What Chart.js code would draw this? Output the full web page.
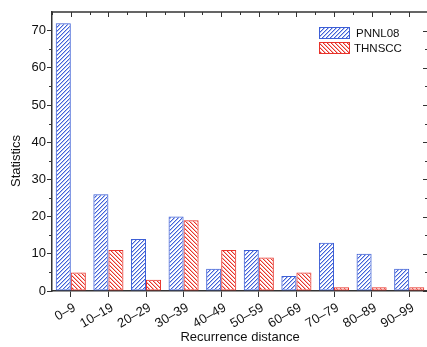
<!DOCTYPE html>
<html>
<head>
<meta charset="utf-8">
<script src="https://cdn.jsdelivr.net/npm/chart.js@4/dist/chart.umd.min.js"></script>
<style>
  html, body { margin: 0; padding: 0; background: #fff; overflow: hidden; }
  #wrap { width: 430px; height: 347px; }
</style>
</head>
<body>
<div id="wrap"><canvas id="grafico"></canvas></div>
<script>
const categorias = ['0–9', '10–19', '20–29', '30–39', '40–49', '50–59', '60–69', '70–79', '80–89', '90–99'];
const pnnl08 = [72, 26, 14, 20, 6, 11, 4, 13, 10, 6];
const thnscc = [5, 11, 3, 19, 11, 9, 5, 1, 1, 1];
const yTicks = [0, 10, 20, 30, 40, 50, 60, 70];
const yMinor = [5, 15, 25, 35, 45, 55, 65];

const AZUL = '#3d5fd6';
const VERMELHO = '#e8322a';
const EIXO = '#333';
const FONTE = '"Liberation Sans", Arial, sans-serif';

// padrão de hachura pixel a pixel, com meia-tinta ao lado da linha
function hachura(cor, corClara, subindo) {
    const c = document.createElement('canvas');
    c.width = 4; c.height = 4;
    const g = c.getContext('2d');
    for (let i = 0; i < 4; i++) {
        const yy = subindo ? 3 - i : i;
        g.fillStyle = corClara;
        g.fillRect((i + 1) % 4, yy, 1, 1);
        g.fillStyle = cor;
        g.fillRect(i, yy, 1, 1);
    }
    return g.createPattern(c, 'repeat');
}

const ctx = document.getElementById('grafico').getContext('2d');
const padraoAzul = hachura('#3f60d8', '#b4c2f0', true);
const padraoVermelho = hachura('#e8322a', '#f6b4ae', false);

// moldura, ticks menores, título do eixo y e legenda
const molduraPlugin = {
    id: 'moldura',
    afterDraw(chart) {
        const { ctx, chartArea: a, scales } = chart;
        const x = scales.x, y = scales.y;
        ctx.save();
        ctx.strokeStyle = EIXO;
        ctx.lineWidth = 1.5;
        ctx.beginPath();
        ctx.moveTo(a.left, a.top); ctx.lineTo(a.right, a.top);
        ctx.moveTo(a.right, a.top); ctx.lineTo(a.right, a.bottom);
        ctx.stroke();
        ctx.lineWidth = 1;
        ctx.beginPath();
        yTicks.forEach(v => {
            const py = Math.round(y.getPixelForValue(v)) + 0.5;
            ctx.moveTo(a.right, py); ctx.lineTo(a.right - 5, py);
        });
        yMinor.forEach(v => {
            const py = Math.round(y.getPixelForValue(v)) + 0.5;
            ctx.moveTo(a.left, py); ctx.lineTo(a.left - 3, py);
            ctx.moveTo(a.right, py); ctx.lineTo(a.right - 3, py);
        });
        categorias.forEach((c, i) => {
            const px = Math.round(x.getPixelForValue(i)) + 0.5;
            ctx.moveTo(px, a.top); ctx.lineTo(px, a.top + 5);
            const pb = Math.round(x.getPixelForValue(i - 0.5)) + 0.5;
            ctx.moveTo(pb, a.top); ctx.lineTo(pb, a.top + 3);
        });
        ctx.stroke();

        // título do eixo y
        ctx.fillStyle = '#111';
        ctx.font = '13px ' + FONTE;
        ctx.textAlign = 'center';
        ctx.textBaseline = 'middle';
        ctx.translate(16, 161);
        ctx.rotate(-Math.PI / 2);
        ctx.fillText('Statistics', 0, 0);
        ctx.setTransform(1, 0, 0, 1, 0, 0);

        // legenda
        ctx.font = '11.5px ' + FONTE;
        ctx.textAlign = 'left';
        chart.data.datasets.forEach((ds, i) => {
            const bx = 319.5, by = 27.5 + i * 15;
            ctx.fillStyle = '#fff';
            ctx.fillRect(bx, by, 30, 11);
            ctx.fillStyle = ds.backgroundColor;
            ctx.fillRect(bx, by, 30, 11);
            ctx.strokeStyle = ds.borderColor;
            ctx.lineWidth = 1;
            ctx.strokeRect(bx, by, 30, 11);
            ctx.fillStyle = '#111';
            ctx.fillText(ds.label, i === 0 ? 356 : 354, by + 6);
        });
        ctx.restore();
    }
};

new Chart(ctx, {
    type: 'bar',
    data: {
        labels: categorias,
        datasets: [
            { label: 'PNNL08', data: pnnl08, backgroundColor: padraoAzul, borderColor: AZUL, borderWidth: 1, borderSkipped: false },
            { label: 'THNSCC', data: thnscc, backgroundColor: padraoVermelho, borderColor: VERMELHO, borderWidth: 1, borderSkipped: false }
        ]
    },
    options: {
        responsive: true,
        maintainAspectRatio: false,
        animation: false,
        layout: { padding: { left: 0, top: 12, right: 2, bottom: 0 } },
        plugins: { legend: { display: false }, tooltip: { enabled: false } },
        datasets: { bar: { categoryPercentage: 0.8, barPercentage: 1 } },
        scales: {
            x: {
                grid: { offset: false, drawOnChartArea: false, tickLength: 6, color: EIXO },
                border: { color: EIXO, width: 1.5 },
                ticks: {
                    color: '#111', minRotation: 30, maxRotation: 30, padding: 3, labelOffset: 4,
                    font: { family: FONTE, size: 13 }
                },
                title: {
                    display: true, text: 'Recurrence distance', color: '#111', padding: { top: 0, bottom: 2 },
                    font: { family: FONTE, size: 13 }
                },
                afterFit(s) { s.height = 56; }
            },
            y: {
                min: 0, max: 75,
                afterBuildTicks(s) { s.ticks = yTicks.map(v => ({ value: v })); },
                grid: { drawOnChartArea: false, tickLength: 5, color: EIXO },
                border: { color: EIXO, width: 1.5 },
                ticks: {
                    color: '#111', padding: 1,
                    font: { family: FONTE, size: 13 }
                },
                afterFit(s) { s.width = 52; }
            }
        }
    },
    plugins: [molduraPlugin]
});
</script>
</body>
</html>
